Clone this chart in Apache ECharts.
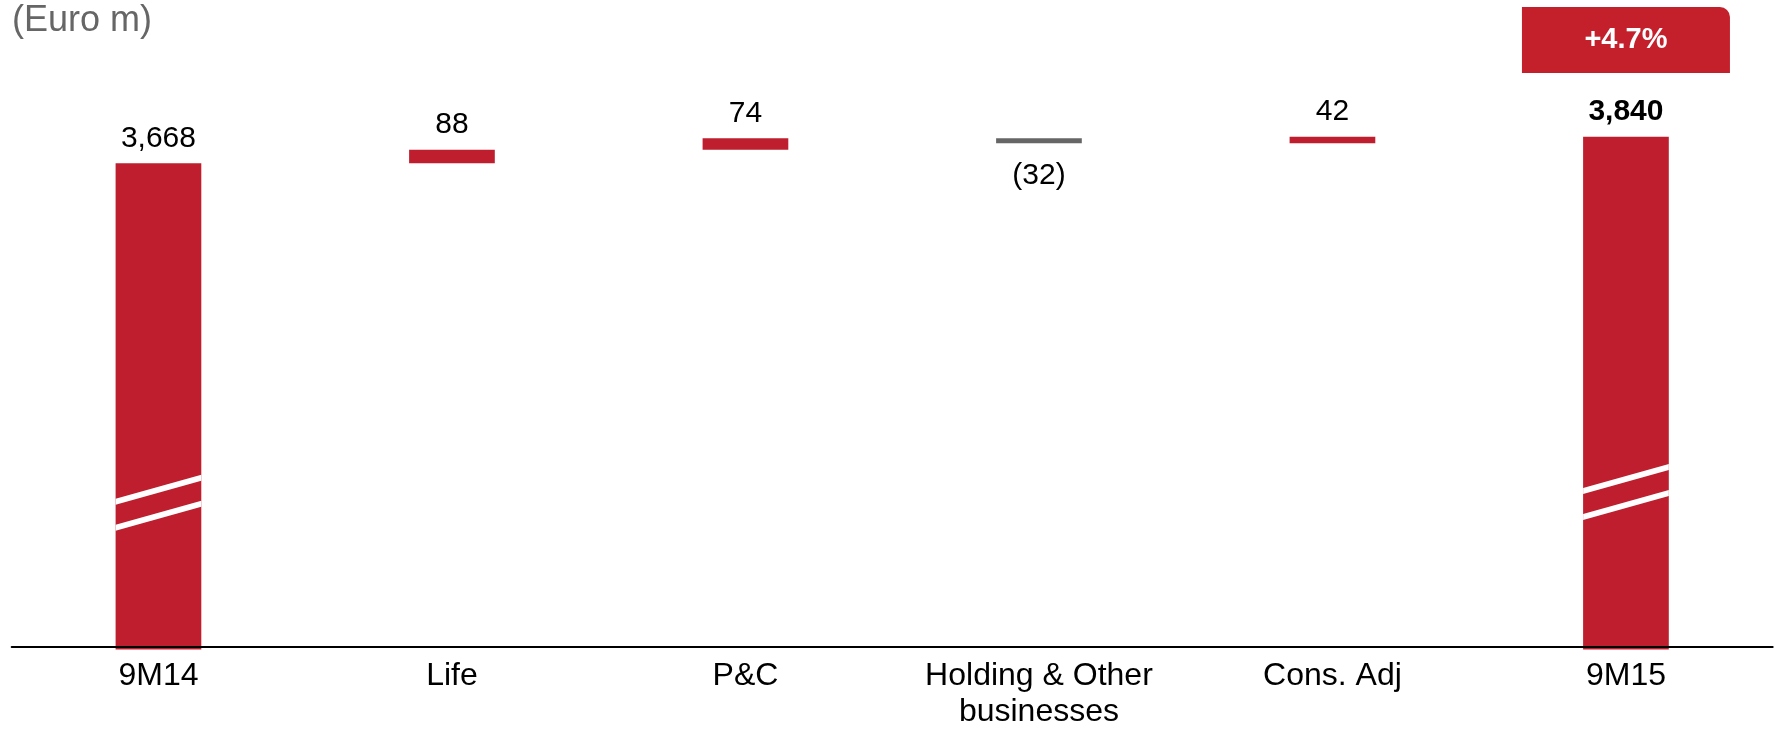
<!DOCTYPE html>
<html>
<head>
<meta charset="utf-8">
<style>
  html, body { margin: 0; padding: 0; background: #ffffff; }
  #chart { width: 1777px; height: 730px; }
</style>
<script src="https://cdn.jsdelivr.net/npm/echarts@6/dist/echarts.min.js"></script>
</head>
<body>
<div id="chart"></div>
<script>
// Operating result bridge, 9M14 -> 9M15 (Euro m)
const categories = ['9M14', 'Life', 'P&C', 'Holding & Other\nbusinesses', 'Cons. Adj', '9M15'];
const openingTotal = 3668;
const closingTotal = 3840;
const segmentChanges = [88, 74, -32, 42];
const growthLabel = '+4.7%';
const unitLabel = '(Euro m)';
// values at which the axis-break stripes cut the two total bars
const breakValues = [1470, 1540];

// truncated value axis (the break stripes mark the cut)
const axisMin = 520;
const axisMax = 4000;

const FONT = "'Liberation Sans', Arial, Helvetica, sans-serif";
const RED = '#BE1E2D';
const GREY = '#666666';

function fmt(v) {
  const s = Math.abs(v).toLocaleString('en-US');
  return v < 0 ? '(' + s + ')' : s;
}

// each row: category index, low end, high end, label text
const rows = [];
rows.push({ value: [0, axisMin, openingTotal], label: fmt(openingTotal), total: true, neg: false });
let running = openingTotal;
segmentChanges.forEach(function (d, k) {
  const next = running + d;
  rows.push({
    value: [k + 1, Math.min(running, next), Math.max(running, next)],
    label: fmt(d), total: false, neg: d < 0
  });
  running = next;
});
rows.push({ value: [categories.length - 1, axisMin, closingTotal], label: fmt(closingTotal), total: true, neg: false });

const BAR_RATIO = 0.292;

function renderBar(params, api) {
  const row = rows[params.dataIndex];
  const i = api.value(0);
  const top = api.coord([i, api.value(2)]);
  const bot = api.coord([i, api.value(1)]);
  const w = api.size([1, 0])[0] * BAR_RATIO;
  const isLast = row.total && params.dataIndex === rows.length - 1;
  return {
    type: 'rect',
    shape: { x: top[0] - w / 2, y: top[1], width: w, height: bot[1] - top[1] },
    style: { fill: row.neg ? GREY : RED },
    textContent: {
      style: {
        text: row.label,
        fontFamily: FONT,
        fontSize: 30,
        fontWeight: isLast ? 'bold' : 'normal',
        fill: '#000000'
      }
    },
    textConfig: { position: row.neg ? 'bottom' : 'top', distance: row.neg ? 18 : 10 }
  };
}

function renderBreak(params, api) {
  const c = api.coord([api.value(0), api.value(1)]);
  const w = api.size([1, 0])[0] * BAR_RATIO;
  const half = w / 2;
  const rise = 12;     // half of the vertical rise across the bar
  const thick = 3;     // half stripe thickness
  const children = [-13, 13].map(function (o) {
    const yl = c[1] + o + rise;
    const yr = c[1] + o - rise;
    return {
      type: 'polygon',
      shape: { points: [[c[0] - half, yl - thick], [c[0] + half, yr - thick], [c[0] + half, yr + thick], [c[0] - half, yl + thick]] },
      style: { fill: '#ffffff' }
    };
  });
  return { type: 'group', children: children };
}

function renderBadge(params, api) {
  const c = api.coord([api.value(0), api.value(1)]);
  const bw = 208, top = 7, bh = 66;
  return {
    type: 'rect',
    shape: { x: c[0] - bw / 2, y: top, width: bw, height: bh, r: [0, 10, 0, 0] },
    style: { fill: '#C4202C' },
    textContent: {
      style: { text: growthLabel, fontFamily: FONT, fontSize: 29, fontWeight: 'bold', fill: '#ffffff' }
    },
    textConfig: { position: 'inside' }
  };
}

const chart = echarts.init(document.getElementById('chart'), null, { renderer: 'canvas' });

chart.setOption({
  animation: false,
  backgroundColor: '#ffffff',
  grid: { left: 11.7, right: 4.3, top: 112, bottom: 79.5, containLabel: false },
  graphic: [{
    type: 'text',
    left: 12,
    top: 3,
    style: { text: unitLabel, fontFamily: FONT, fontSize: 36, fill: GREY }
  }],
  xAxis: {
    type: 'category',
    data: categories,
    offset: -2.5,
    z: 10,
    axisLine: { show: true, lineStyle: { color: '#000000', width: 2 } },
    axisTick: { show: false },
    axisLabel: {
      interval: 0,
      margin: 11,
      fontFamily: FONT,
      fontSize: 32,
      lineHeight: 36,
      color: '#000000'
    },
    splitLine: { show: false }
  },
  yAxis: {
    type: 'value',
    min: axisMin,
    max: axisMax,
    show: false,
    splitLine: { show: false }
  },
  series: [
    {
      type: 'custom',
      name: 'bridge',
      renderItem: renderBar,
      data: rows.map(function (r) { return r.value; }),
      z: 2
    },
    {
      type: 'custom',
      name: 'breaks',
      renderItem: renderBreak,
      data: [[0, breakValues[0]], [categories.length - 1, breakValues[1]]],
      z: 3,
      silent: true
    },
    {
      type: 'custom',
      name: 'growth',
      renderItem: renderBadge,
      data: [[categories.length - 1, closingTotal]],
      z: 3,
      silent: true
    }
  ]
});
</script>
</body>
</html>
